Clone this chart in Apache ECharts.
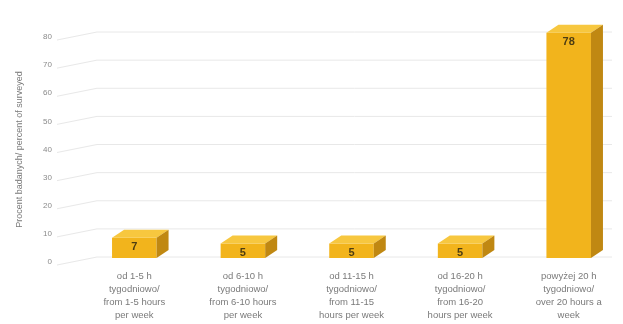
<!DOCTYPE html>
<html><head><meta charset="utf-8">
<script src="https://cdn.jsdelivr.net/npm/echarts@6/dist/echarts.min.js"></script>
<style>html,body{margin:0;padding:0;background:#fff}#c{width:623px;height:324px}</style>
</head><body><div id="c"></div>
<script>
const categories = [
  "od 1-5 h\ntygodniowo/\nfrom 1-5 hours\nper week",
  "od 6-10 h\ntygodniowo/\nfrom 6-10 hours\nper week",
  "od 11-15 h\ntygodniowo/\nfrom 11-15\nhours per week",
  "od 16-20 h\ntygodniowo/\nfrom 16-20\nhours per week",
  "powyżej 20 h\ntygodniowo/\nover 20 hours a\nweek"
];
const values = [7, 5, 5, 5, 78];
const yTicks = [0, 10, 20, 30, 40, 50, 60, 70, 80];
const yTitle = "Procent badanych/ percent of surveyed";

const chart = echarts.init(document.getElementById('c'));
const FONT = '"Liberation Sans", Arial, sans-serif';
chart.setOption({
  animation: false,
  backgroundColor: '#fff',
  grid: [
    { left: 57, top: 37, width: 555, height: 225 },
    { left: 80, top: 27, width: 550, height: 231 }
  ],
  xAxis: [
    { type: 'value', gridIndex: 0, min: 0, max: 1, show: false },
    {
      type: 'category', gridIndex: 1, data: categories,
      axisLine: { show: false }, axisTick: { show: false },
      axisLabel: { color: '#7a7a7a', fontSize: 9.5, lineHeight: 13, margin: 12, interval: 0, fontFamily: FONT }
    }
  ],
  yAxis: [
    {
      type: 'value', gridIndex: 0, min: 0, max: 80, interval: 10,
      name: yTitle, nameLocation: 'middle', nameGap: 33, nameRotate: 90,
      nameTextStyle: { color: '#7a7a7a', fontSize: 9, fontFamily: FONT },
      axisLine: { show: false }, axisTick: { show: false },
      axisLabel: { color: '#8a8a8a', fontSize: 8, margin: 5, fontFamily: FONT },
      splitLine: { show: false }
    },
    { type: 'value', gridIndex: 1, min: 0, max: 80, interval: 10, show: false, splitLine: { show: false } }
  ],
  series: [
    {
      type: 'custom', silent: true, z: 1, xAxisIndex: 0, yAxisIndex: 0,
      data: yTicks.map(t => [0, t]),
      renderItem: function (params, api) {
        const p = api.coord([0, api.value(1)]);
        const cs = params.coordSys;
        const x0 = cs.x, x1 = cs.x + 40, x2 = cs.x + cs.width;
        return { type: 'polyline', shape: { points: [[x0, p[1] + 3], [x1, p[1] - 5], [x2, p[1] - 5]] },
          style: { stroke: '#e8e8e8', lineWidth: 1, fill: null } };
      }
    },
    {
      type: 'custom', z: 5, xAxisIndex: 1, yAxisIndex: 1,
      data: values.map((v, i) => [i, v]),
      renderItem: function (params, api) {
        const x = api.value(0), v = api.value(1);
        const top = api.coord([x, v]);
        const base = api.coord([x, 0]);
        const bw = api.size([1, 0])[0] * 0.41;
        const l = top[0] - bw / 2, r = top[0] + bw / 2;
        const d = 12, dy = 8;
        const t = top[1], b = base[1];
        return { type: 'group', children: [
          { type: 'rect', shape: { x: l, y: t, width: bw, height: b - t }, style: { fill: '#F2B41C' } },
          { type: 'polygon', shape: { points: [[l, t], [l + d, t - dy], [r + d, t - dy], [r, t]] }, style: { fill: '#F7C73F' } },
          { type: 'polygon', shape: { points: [[r, t], [r + d, t - dy], [r + d, b - dy], [r, b]] }, style: { fill: '#C08812' } },
          { type: 'text', style: { text: String(v), x: top[0], y: t + 4, align: 'center', verticalAlign: 'top',
            fill: '#4d3d12', font: 'bold 11px ' + FONT } }
        ] };
      }
    }
  ]
});
</script></body></html>
